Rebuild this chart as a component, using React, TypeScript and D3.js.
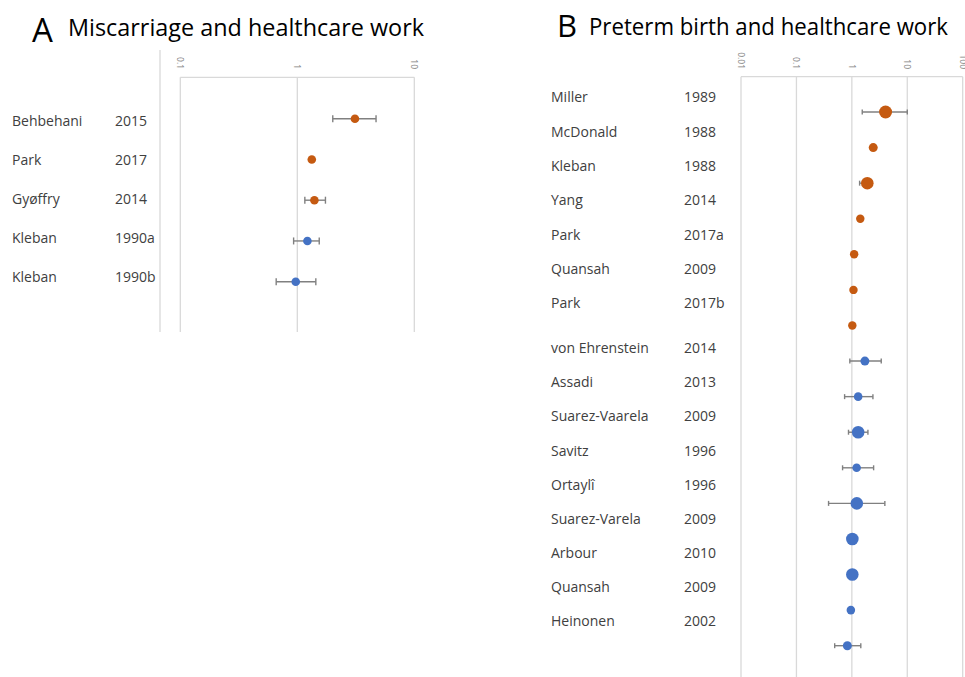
import React from "react";
import * as d3 from "d3";

const W = 965;
const H = 677;

// Panel A — miscarriage and healthcare work
const missNames = ["Behbehani", "Park", "Gyøffry", "Kleban", "Kleban"];
const missYears = ["2015", "2017", "2014", "1990a", "1990b"];
const missEst = [3.11, 1.33, 1.4, 1.22, 0.97];
const missLo: (number | null)[] = [2.01, null, 1.16, 0.93, 0.66];
const missHi: (number | null)[] = [4.71, null, 1.74, 1.54, 1.44];
const missGroup = ["g1", "g1", "g1", "g2", "g2"];
const missTicks = [0.1, 1, 10];
const missTickLabels = ["0.1", "1", "10"];

// Panel B — preterm birth and healthcare work
const pretermNames = [
  "Miller", "McDonald", "Kleban", "Yang", "Park", "Quansah", "Park",
  "von Ehrenstein", "Assadi", "Suarez-Vaarela", "Savitz", "Ortaylî",
  "Suarez-Varela", "Arbour", "Quansah", "Heinonen",
];
const pretermYears = [
  "1989", "1988", "1988", "2014", "2017a", "2009", "2017b",
  "2014", "2013", "2009", "1996", "1996", "2009", "2010", "2009", "2002",
];
const pretermEst = [4.06, 2.43, 1.9, 1.42, 1.1, 1.07, 1.02, 1.72, 1.3, 1.3, 1.22, 1.23, 1.02, 1.02, 0.96, 0.83];
const pretermLo: (number | null)[] = [1.54, null, 1.38, null, null, null, null, 0.92, 0.74, 0.87, 0.68, 0.38, null, null, null, 0.49];
const pretermHi: (number | null)[] = [10.0, null, 2.3, null, null, null, null, 3.39, 2.4, 1.95, 2.47, 3.94, null, null, null, 1.45];
const pretermWeight = [2.3, 1.1, 2.15, 0.97, 0.97, 0.97, 0.97, 1.1, 1.0, 2.15, 1.0, 2.15, 2.15, 2.15, 1.0, 1.1];
const pretermGroup = ["g1", "g1", "g1", "g1", "g1", "g1", "g1", "g2", "g2", "g2", "g2", "g2", "g2", "g2", "g2", "g2"];
const pretermTicks = [0.01, 0.1, 1, 10, 100];
const pretermTickLabels = ["0.01", "0.1", "1", "10", "100"];

const groupColor: Record<string, string> = { g1: "#c55a11", g2: "#4472c4" };
const GRID = "#d9d9d9";
const BAR = "#808080";
const LABEL = "#404040";
const FONT = "'Open Sans', 'Liberation Sans', sans-serif";

type ForestProps = {
  names: string[];
  years: string[];
  est: number[];
  lo: (number | null)[];
  hi: (number | null)[];
  group: string[];
  radius: (i: number) => number;
  ticks: number[];
  tickLabels: string[];
  x: d3.ScaleLogarithmic<number, number>;
  y: (i: number) => number;
  labelY: (i: number) => number;
  top: number;
  bottom: number;
  nameX: number;
  yearX: number;
  cap: number;
};

function Forest(p: ForestProps) {
  const [x0, x1] = p.x.range();
  return (
    <g>
      <line x1={x0} x2={x1} y1={p.top} y2={p.top} stroke={GRID} strokeWidth={1.3} />
      {p.ticks.map((t, i) => (
        <g key={"t" + i}>
          <line x1={p.x(t)} x2={p.x(t)} y1={p.top} y2={p.bottom} stroke={GRID} strokeWidth={1.3} />
          <text
            transform={`translate(${p.x(t) - 3},69) rotate(90)`}
            textAnchor="end"
            fontSize={8.5}
            fill="#7f7f7f"
            fontFamily={FONT}
          >
            {p.tickLabels[i]}
          </text>
        </g>
      ))}
      {p.names.map((n, i) => (
        <g key={"l" + i} fontFamily={FONT} fontSize={14} fill={LABEL}>
          <text x={p.nameX} y={p.labelY(i)}>{n}</text>
          <text x={p.yearX} y={p.labelY(i)}>{p.years[i]}</text>
        </g>
      ))}
      {p.est.map((v, i) => {
        const cy = p.y(i);
        const lo = p.lo[i];
        const hi = p.hi[i];
        return (
          <g key={"m" + i}>
            {lo != null && hi != null && (
              <g stroke={BAR} strokeWidth={1.4}>
                <line x1={p.x(lo)} x2={p.x(hi)} y1={cy} y2={cy} />
                <line x1={p.x(lo)} x2={p.x(lo)} y1={cy - p.cap} y2={cy + p.cap} />
                <line x1={p.x(hi)} x2={p.x(hi)} y1={cy - p.cap} y2={cy + p.cap} />
              </g>
            )}
            <circle cx={p.x(v)} cy={cy} r={p.radius(i)} fill={groupColor[p.group[i]]} />
          </g>
        );
      })}
    </g>
  );
}

export default function App() {
  // Panel A scales
  const xA = d3.scaleLog().domain([0.1, 10]).range([180.3, 414.3]);
  const rowsA = d3.scalePoint<number>().domain(d3.range(missEst.length)).range([118.7, 281.7]);
  const labA = d3.scalePoint<number>().domain(d3.range(missNames.length)).range([126, 282]);

  // Panel B scales
  const xB = d3.scaleLog().domain([0.01, 100]).range([741, 962.7]);
  const rowsB = d3.scalePoint<number>().domain(d3.range(pretermEst.length)).range([112, 645.7]);
  const firstGroup = pretermGroup.filter((g) => g === "g1").length;
  const labB1 = d3.scalePoint<number>().domain(d3.range(firstGroup)).range([102.3, 308.3]);
  const labB2 = d3
    .scalePoint<number>()
    .domain(d3.range(firstGroup, pretermNames.length))
    .range([353.3, 626]);
  const rB = d3.scaleSqrt().domain([0, d3.max(pretermWeight) as number]).range([0, 6.5]);

  return (
    <svg
      width={W}
      height={H}
      viewBox={`0 0 ${W} ${H}`}
      style={{ position: "absolute", left: 0, top: 0, background: "#fff" }}
    >
      <rect width={W} height={H} fill="#fff" />

      {/* Panel A */}
      <text x={32} y={42} fontFamily={FONT} fontSize={33} fill="#000">A</text>
      <text x={68} y={36} fontFamily={FONT} fontSize={23} fill="#000" textLength={356} lengthAdjust="spacingAndGlyphs">
        Miscarriage and healthcare work
      </text>
      <line x1={160} x2={160} y1={50} y2={332} stroke={GRID} strokeWidth={1.3} />
      <Forest
        names={missNames}
        years={missYears}
        est={missEst}
        lo={missLo}
        hi={missHi}
        group={missGroup}
        radius={() => 4.3}
        ticks={missTicks}
        tickLabels={missTickLabels}
        x={xA}
        y={(i) => rowsA(i) as number}
        labelY={(i) => labA(i) as number}
        top={77.3}
        bottom={332}
        nameX={12}
        yearX={115}
        cap={3.5}
      />

      {/* Panel B */}
      <text x={557} y={37} fontFamily={FONT} fontSize={31} fill="#000">B</text>
      <text x={589} y={35} fontFamily={FONT} fontSize={23} fill="#000" textLength={359} lengthAdjust="spacingAndGlyphs">
        Preterm birth and healthcare work
      </text>
      <Forest
        names={pretermNames}
        years={pretermYears}
        est={pretermEst}
        lo={pretermLo}
        hi={pretermHi}
        group={pretermGroup}
        radius={(i) => rB(pretermWeight[i])}
        ticks={pretermTicks}
        tickLabels={pretermTickLabels}
        x={xB}
        y={(i) => rowsB(i) as number}
        labelY={(i) => (i < firstGroup ? (labB1(i) as number) : (labB2(i) as number))}
        top={76.7}
        bottom={H}
        nameX={551}
        yearX={684}
        cap={2.5}
      />
    </svg>
  );
}
